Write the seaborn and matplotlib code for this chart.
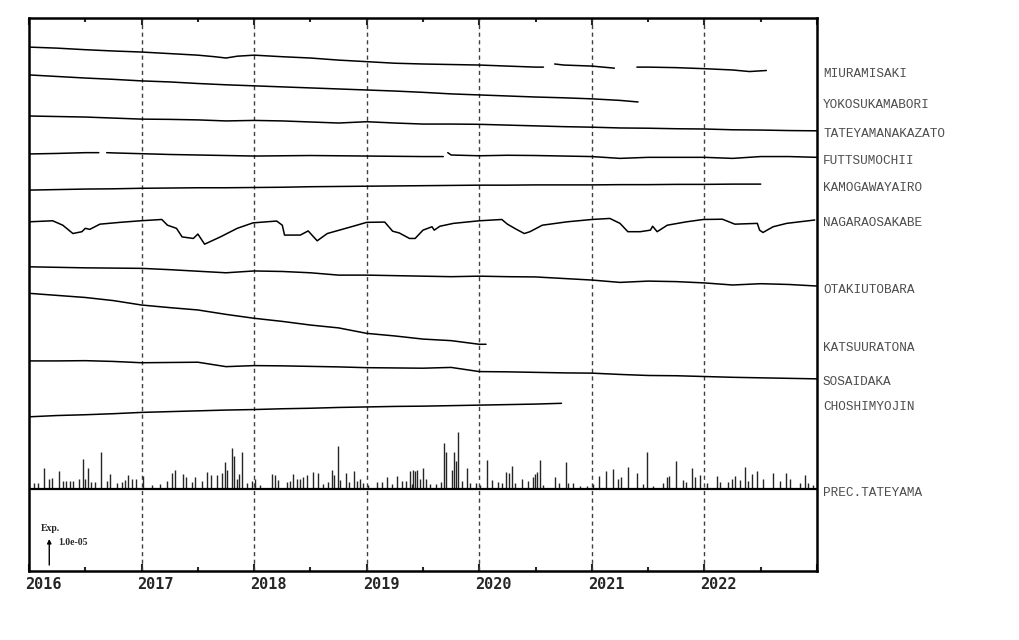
import numpy as np
import pandas as pd
import matplotlib
matplotlib.use("Agg")
import matplotlib.pyplot as plt
import matplotlib.transforms as mtrans
import seaborn as sns

nan = np.nan

# === Data: strain change (unit 1e-6) relative to first sample ===
t_q = list(np.arange(2016.0, 2023.01, 0.25))  # quarterly sampling grid

t_miura = [2016.00, 2016.25, 2016.50, 2016.75, 2017.00, 2017.25, 2017.50, 2017.65, 2017.75, 2017.85,
           2018.00, 2018.25, 2018.50, 2018.75, 2019.00, 2019.25, 2019.50, 2019.75, 2020.00, 2020.25,
           2020.50, 2020.57, 2020.62, 2020.67, 2020.75, 2021.00, 2021.20, 2021.30, 2021.40, 2021.50,
           2021.75, 2022.00, 2022.25, 2022.40, 2022.55]
miura = [0.0, -0.4, -1.0, -1.5, -1.9, -2.5, -3.1, -3.7, -4.2, -3.5,
         -3.1, -3.7, -4.2, -5.0, -5.6, -6.2, -6.5, -6.7, -6.9, -7.3,
         -7.7, -7.7, nan, -6.5, -6.9, -7.3, -8.1, nan, -7.7, -7.7,
         -7.9, -8.3, -8.8, -9.4, -9.0]

t_yokosuka = t_q[:22] + [2021.41]
yokosuka = [0.0, -0.6, -1.2, -1.7, -2.3, -2.7, -3.3, -3.8, -4.2, -4.6, -5.0, -5.4,
            -5.8, -6.2, -6.7, -7.3, -7.7, -8.1, -8.5, -8.8, -9.2, -9.8, -10.4]

tateyama = [0.0, -0.2, -0.4, -0.8, -1.2, -1.3, -1.5, -1.9, -1.7, -1.9, -2.3, -2.7, -2.2, -2.7,
            -3.1, -3.1, -3.2, -3.5, -3.8, -4.1, -4.3, -4.6, -4.7, -4.9, -5.0, -5.3, -5.4, -5.6, -5.7]

t_futtsu = [2016.00, 2016.25, 2016.50, 2016.62, 2016.66, 2016.69, 2016.75, 2017.00, 2017.25, 2017.50,
            2017.75, 2018.00, 2018.50, 2019.00, 2019.50, 2019.68, 2019.70, 2019.72, 2019.75, 2020.00,
            2020.25, 2020.50, 2020.75, 2021.00, 2021.25, 2021.50, 2021.75, 2022.00, 2022.25, 2022.50,
            2022.75, 2023.00]
futtsu = [0.0, 0.2, 0.5, 0.5, nan, 0.5, 0.4, 0.1, -0.2, -0.4,
          -0.6, -0.8, -0.6, -0.8, -1.0, -1.0, nan, 0.5, -0.4, -0.7,
          -0.5, -0.6, -0.8, -1.0, -1.7, -1.3, -1.3, -1.3, -1.7, -1.0,
          -1.0, -1.3]

kamogawa = [0.0, 0.2, 0.4, 0.5, 0.7, 0.8, 0.9, 0.9, 1.0, 1.1, 1.3, 1.4, 1.5, 1.6,
            1.7, 1.8, 1.9, 1.9, 2.0, 2.0, 2.0, 2.1, 2.1, 2.2, 2.2, 2.3, 2.3]

t_nagara = [2016.00, 2016.21, 2016.30, 2016.39, 2016.47, 2016.50, 2016.54, 2016.63, 2016.81, 2016.99,
            2017.18, 2017.23, 2017.31, 2017.36, 2017.46, 2017.50, 2017.56, 2017.70, 2017.85, 2017.99,
            2018.20, 2018.25, 2018.27, 2018.41, 2018.48, 2018.56, 2018.65, 2018.88, 2019.00, 2019.16,
            2019.23, 2019.29, 2019.38, 2019.43, 2019.50, 2019.58, 2019.60, 2019.65, 2019.77, 2020.00,
            2020.20, 2020.25, 2020.33, 2020.40, 2020.45, 2020.56, 2020.78, 2021.00, 2021.16, 2021.25,
            2021.32, 2021.43, 2021.52, 2021.54, 2021.58, 2021.67, 2021.84, 2021.99, 2022.16, 2022.27,
            2022.47, 2022.49, 2022.52, 2022.61, 2022.73, 2022.98]
nagara = [0.0, 0.4, -1.3, -4.5, -3.8, -2.5, -2.9, -0.9, -0.2, 0.4,
          0.9, -1.3, -2.5, -5.8, -6.4, -4.7, -8.6, -5.8, -2.5, -0.4,
          0.3, -1.3, -5.1, -5.1, -3.5, -7.3, -4.5, -1.7, -0.2, -0.1,
          -3.6, -4.3, -6.4, -6.4, -3.2, -1.9, -3.2, -1.7, -0.6, 0.4,
          0.9, -0.9, -2.9, -4.5, -3.8, -1.3, 0.0, 0.9, 1.3, -0.6,
          -3.8, -3.8, -3.2, -1.7, -3.8, -1.3, 0.0, 0.9, 1.0, -0.9,
          -0.6, -3.2, -4.1, -1.9, -0.6, 0.7]

otaki = [0.0, -0.2, -0.4, -0.5, -0.6, -1.1, -1.7, -2.3, -1.6, -1.8, -2.3, -3.2, -3.2, -3.4,
         -3.6, -3.8, -3.6, -3.8, -3.9, -4.5, -5.1, -6.0, -5.5, -5.7, -6.2, -7.0, -6.5, -6.8, -7.4]

t_katsuura = t_q[:17] + [2020.06]
katsuura = [0.0, -0.8, -1.6, -2.8, -4.5, -5.5, -6.4, -8.1, -9.6, -10.8, -12.2, -13.3,
            -15.4, -16.4, -17.6, -18.2, -19.6, -19.6]

sosai = [0.0, 0.0, 0.1, -0.2, -0.7, -0.6, -0.5, -2.2, -1.8, -1.9, -2.1, -2.3, -2.6, -2.7,
         -2.8, -2.5, -4.1, -4.2, -4.4, -4.6, -4.7, -5.2, -5.6, -5.7, -6.0, -6.3, -6.5, -6.7, -6.9]

t_choshi = t_q[:19] + [2020.73]
choshi = [0.0, 0.5, 0.8, 1.2, 1.7, 2.0, 2.3, 2.6, 2.8, 3.1, 3.3, 3.6, 3.8, 4.0,
          4.1, 4.3, 4.5, 4.7, 4.9, 5.2]

names = ["MIURAMISAKI", "YOKOSUKAMABORI", "TATEYAMANAKAZATO", "FUTTSUMOCHII", "KAMOGAWAYAIRO",
         "NAGARAOSAKABE", "OTAKIUTOBARA", "KATSUURATONA", "SOSAIDAKA", "CHOSHIMYOJIN"]
times = [t_miura, t_yokosuka, t_q, t_futtsu, t_q[:27], t_nagara, t_q, t_katsuura, t_q, t_choshi]
values = [miura, yokosuka, tateyama, futtsu, kamogawa, nagara, otaki, katsuura, sosai, choshi]

# daily precipitation at Tateyama (mm), larger events only
prec_t = [2016.044, 2016.080, 2016.133, 2016.178, 2016.204, 2016.266, 2016.302, 2016.329, 2016.364, 2016.391,
          2016.444, 2016.480, 2016.497, 2016.524, 2016.551, 2016.586, 2016.639, 2016.693, 2016.719, 2016.782,
          2016.826, 2016.853, 2016.879, 2016.915, 2016.950, 2017.012, 2017.092, 2017.163, 2017.226, 2017.270,
          2017.297, 2017.368, 2017.394, 2017.448, 2017.474, 2017.536, 2017.581, 2017.616, 2017.670, 2017.714,
          2017.741, 2017.758, 2017.803, 2017.821, 2017.847, 2017.865, 2017.892, 2017.936, 2017.980, 2018.007,
          2018.052, 2018.158, 2018.185, 2018.211, 2018.291, 2018.318, 2018.345, 2018.380, 2018.407, 2018.433,
          2018.469, 2018.522, 2018.567, 2018.611, 2018.655, 2018.691, 2018.709, 2018.744, 2018.762, 2018.815,
          2018.842, 2018.886, 2018.913, 2018.940, 2018.966, 2019.011, 2019.091, 2019.135, 2019.179, 2019.224,
          2019.268, 2019.313, 2019.348, 2019.384, 2019.401, 2019.410, 2019.428, 2019.446, 2019.472, 2019.499,
          2019.526, 2019.561, 2019.615, 2019.659, 2019.686, 2019.703, 2019.757, 2019.774, 2019.792, 2019.810,
          2019.845, 2019.890, 2019.917, 2019.970, 2020.005, 2020.067, 2020.112, 2020.165, 2020.201, 2020.236,
          2020.263, 2020.290, 2020.316, 2020.378, 2020.432, 2020.476, 2020.494, 2020.512, 2020.538, 2020.565,
          2020.671, 2020.707, 2020.769, 2020.787, 2020.831, 2020.893, 2020.956, 2021.009, 2021.062, 2021.124,
          2021.187, 2021.231, 2021.258, 2021.320, 2021.400, 2021.453, 2021.488, 2021.542, 2021.631, 2021.666,
          2021.684, 2021.746, 2021.808, 2021.835, 2021.888, 2021.915, 2021.959, 2022.021, 2022.110, 2022.137,
          2022.208, 2022.243, 2022.270, 2022.314, 2022.359, 2022.385, 2022.421, 2022.465, 2022.519, 2022.607,
          2022.670, 2022.723, 2022.758, 2022.847, 2022.892, 2022.918, 2022.963]
prec_mm = [27, 27, 95, 45, 50, 81, 36, 36, 36, 36,
           45, 135, 45, 95, 32, 32, 167, 36, 68, 27,
           32, 41, 63, 45, 45, 59, 18, 23, 36, 72,
           86, 68, 54, 32, 54, 36, 77, 63, 63, 72,
           122, 86, 185, 149, 45, 68, 167, 27, 36, 45,
           18, 68, 63, 41, 32, 36, 68, 45, 45, 54,
           63, 77, 72, 23, 32, 86, 63, 194, 41, 72,
           32, 81, 36, 45, 27, 18, 32, 32, 54, 23,
           59, 36, 36, 81, 23, 86, 81, 86, 45, 95,
           45, 23, 23, 32, 207, 167, 86, 167, 126, 257,
           36, 95, 27, 27, 18, 131, 41, 32, 27, 77,
           72, 104, 27, 45, 36, 54, 68, 77, 131, 18,
           54, 27, 122, 27, 27, 14, 14, 23, 59, 81,
           90, 45, 54, 99, 72, 23, 167, 14, 27, 54,
           59, 126, 41, 32, 95, 54, 63, 27, 59, 32,
           32, 45, 59, 41, 99, 36, 68, 81, 45, 72,
           36, 72, 45, 27, 63, 27, 18]

# === Layout (stacking offsets, unit 1e-6) ===
offsets = [201.5, 190.8, 175.0, 160.4, 146.5, 134.3, 117.0, 106.8, 80.8, 59.3]
prec_base = 31.5
prec_scale = 1 / 11.7
years = list(range(2016, 2024))

sns.set_style("white")
plt.rcParams["font.family"] = ["Liberation Mono", "DejaVu Sans Mono"]

rows = []
for name, t, v, off in zip(names, times, values, offsets):
    seg = 0
    for ti, vi in zip(t, v):
        if np.isnan(vi):
            seg += 1
            continue
        rows.append((name, f"{name}-{seg}", ti, vi + off))
df = pd.DataFrame(rows, columns=["station", "key", "t", "y"])

fig = plt.figure(figsize=(10.2, 6.4), dpi=100)
ax = fig.add_axes([29 / 1020, 1 - 571 / 640, 788 / 1020, 553 / 640])

for yr in years[1:-1]:
    ax.axvline(yr, color="0.25", lw=1, ls=(0, (3, 2.5)), zorder=1)

sns.lineplot(data=df, x="t", y="y", units="key", estimator=None, sort=False,
             color="black", lw=1.1, ax=ax, legend=False)

# precipitation bars
ax.vlines(prec_t, prec_base, prec_base + np.array(prec_mm) * prec_scale, color="0.15", lw=1)
ax.axhline(prec_base, color="black", lw=1.6)

ax.set_xlim(2016, 2023)
ax.set_ylim(0, 553 / 2.6)
ax.set_xlabel("")
ax.set_ylabel("")
ax.set_yticks([])
ax.set_xticks(years)
ax.set_xticklabels([str(y) for y in years[:-1]] + [""], fontweight="bold", fontsize=11,
                   family=["DejaVu Sans Mono"])
ax.set_xticks([y + 0.5 for y in years[:-1]], minor=True)
ax.tick_params(axis="x", which="both", direction="in", top=True, bottom=True, width=1.5, pad=4)
ax.tick_params(axis="x", which="major", length=5)
ax.tick_params(axis="x", which="minor", length=3)
shift = mtrans.ScaledTranslation(-4 / 100, 0, fig.dpi_scale_trans)
for lab in ax.get_xticklabels():
    lab.set_ha("left")
    lab.set_transform(lab.get_transform() + shift)
for sp in ax.spines.values():
    sp.set_linewidth(1.8)
    sp.set_color("black")

# station labels at the end value of each series
lab_tf = mtrans.blended_transform_factory(ax.transAxes, ax.transData) + \
    mtrans.ScaledTranslation(6 / 100, -3.5 / 100, fig.dpi_scale_trans)
for name, v, off in zip(names, values, offsets):
    last = [x for x in v if not np.isnan(x)][-1]
    ax.text(1.0, last + off, name, transform=lab_tf, fontsize=9.2, color="0.3",
            va="center", ha="left")
ax.text(1.0, prec_base, "PREC.TATEYAMA", transform=lab_tf, fontsize=9.2, color="0.3",
        va="center", ha="left")

# scale arrow: 1e-5 strain
ax.annotate("", xy=(2016.18, 12.3), xytext=(2016.18, 2.3),
            arrowprops=dict(arrowstyle="-|>", color="black", lw=1, mutation_scale=6, shrinkA=0, shrinkB=0))
ax.text(2016.19, 16.2, "Exp.", fontsize=7, fontweight="bold", family=["Liberation Serif"],
        ha="center", va="center")
ax.text(2016.26, 10.8, "1.0e-05", fontsize=7, fontweight="bold", family=["Liberation Serif"],
        ha="left", va="center")

fig.savefig("out.png", dpi=100)
